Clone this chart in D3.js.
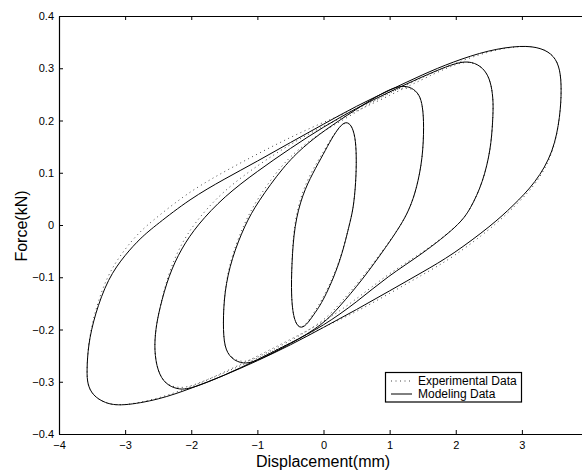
<!DOCTYPE html>
<html>
<head>
<meta charset="utf-8">
<script src="https://cdn.jsdelivr.net/npm/d3@7"></script>
<style>
  html, body { margin: 0; padding: 0; background: #fff; }
  svg { display: block; font-family: "Liberation Sans", Arial, Helvetica, sans-serif; }
</style>
</head>
<body>
<svg id="chart" width="582" height="471"></svg>
<script>
// ---- Data ----
const xTicks = [-4, -3, -2, -1, 0, 1, 2, 3];   // the x = 4 tick lies beyond the picture edge
const yTicks = [-0.4, -0.3, -0.2, -0.1, 0, 0.1, 0.2, 0.3, 0.4];
const legendLabels = ["Experimental Data", "Modeling Data"];

// Modeling data: four hysteresis loops [displacement(mm), force(kN)]
const modelLoop1 = [
  [-0.36,-0.199],[-0.45,-0.182],[-0.49,-0.137],[-0.48,-0.073],[-0.44,0.0],[-0.32,0.058],
  [-0.16,0.1],[0.0,0.136],[0.12,0.165],[0.25,0.19],[0.34,0.198],[0.42,0.192],[0.48,0.17],
  [0.5,0.132],[0.49,0.081],[0.45,0.03],[0.39,0.0],[0.25,-0.073],[0.0,-0.145],
  [-0.15,-0.172],[-0.26,-0.192]
];
const modelLoop2 = [
  [-1.21,-0.267],[-1.4,-0.256],[-1.5,-0.234],[-1.52,-0.191],[-1.5,-0.128],[-1.39,-0.064],
  [-1.19,0.0],[-1.0,0.043],[-0.6,0.113],[-0.3,0.15],[0.0,0.18],[0.5,0.222],[0.9,0.254],
  [1.17,0.268],[1.34,0.263],[1.45,0.25],[1.5,0.228],[1.52,0.19],[1.5,0.128],[1.41,0.07],
  [1.3,0.03],[1.17,0.0],[0.97,-0.038],[0.57,-0.108],[0.25,-0.155],[0.0,-0.19],
  [-0.5,-0.228],[-1.0,-0.26]
];
const modelLoop3 = [
  [-2.2,-0.315],[-2.39,-0.305],[-2.51,-0.28],[-2.56,-0.24],[-2.54,-0.2],[-2.48,-0.16],
  [-2.34,-0.096],[-2.15,-0.045],[-1.91,0.0],[-1.5,0.055],[-1.0,0.103],[-0.5,0.147],
  [0.0,0.188],[0.5,0.224],[1.0,0.255],[1.5,0.284],[1.85,0.303],[2.14,0.315],[2.34,0.308],
  [2.47,0.292],[2.54,0.268],[2.57,0.235],[2.56,0.2],[2.53,0.145],[2.41,0.081],[2.22,0.03],
  [2.05,0.0],[1.5,-0.055],[0.97,-0.098],[0.5,-0.148],[0.0,-0.193],[-0.5,-0.226],
  [-1.0,-0.258],[-1.5,-0.288],[-2.01,-0.314]
];
const modelLoop4 = [
  [-3.58,-0.28],[-3.56,-0.23],[-3.46,-0.172],[-3.26,-0.102],[-3.0,-0.057],[-2.76,-0.024],
  [-2.53,0.0],[-2.02,0.05],[-1.5,0.088],[-1.0,0.122],[-0.5,0.158],[0.0,0.193],[0.5,0.228],
  [1.0,0.258],[1.5,0.288],[1.95,0.312],[2.5,0.335],[3.0,0.344],[3.3,0.339],[3.49,0.324],
  [3.58,0.298],[3.6,0.26],[3.58,0.209],[3.48,0.14],[3.21,0.081],[2.86,0.036],[2.55,0.0],
  [1.95,-0.057],[1.5,-0.09],[1.0,-0.126],[0.5,-0.162],[0.0,-0.196],[-0.5,-0.23],
  [-1.0,-0.26],[-1.5,-0.288],[-2.01,-0.313],[-2.48,-0.334],[-3.06,-0.347],[-3.31,-0.341],
  [-3.49,-0.326],[-3.57,-0.305]
];

// Experimental data (dotted), read where it departs from the model curves
const expLoop1 = [
  [-0.36,-0.199],[-0.45,-0.182],[-0.49,-0.137],[-0.48,-0.073],[-0.45,0.0],[-0.33,0.062],
  [-0.17,0.105],[0.0,0.14],[0.12,0.167],[0.25,0.189],[0.34,0.197],[0.42,0.192],[0.48,0.17],
  [0.5,0.132],[0.49,0.081],[0.45,0.03],[0.39,0.0],[0.25,-0.07],[0.0,-0.14],
  [-0.15,-0.168],[-0.26,-0.19]
];
const expLoop2 = [
  [-1.21,-0.264],[-1.4,-0.255],[-1.5,-0.234],[-1.52,-0.191],[-1.5,-0.128],[-1.4,-0.062],
  [-1.21,0.0],[-1.02,0.047],[-0.62,0.118],[-0.3,0.153],[0.0,0.18],[0.5,0.216],[0.9,0.248],
  [1.17,0.264],[1.34,0.261],[1.45,0.25],[1.5,0.228],[1.52,0.19],[1.5,0.128],[1.41,0.07],
  [1.3,0.03],[1.17,0.0],[0.97,-0.036],[0.57,-0.104],[0.25,-0.15],[0.0,-0.185],
  [-0.5,-0.222],[-1.0,-0.254]
];
const expLoop3 = [
  [-2.2,-0.312],[-2.39,-0.305],[-2.51,-0.28],[-2.56,-0.24],[-2.54,-0.2],[-2.48,-0.16],
  [-2.35,-0.094],[-2.17,-0.04],[-1.94,0.006],[-1.53,0.064],[-1.0,0.114],[-0.5,0.155],
  [0.0,0.19],[0.5,0.218],[1.0,0.248],[1.5,0.279],[1.85,0.3],[2.14,0.314],[2.34,0.308],
  [2.47,0.292],[2.54,0.268],[2.57,0.235],[2.56,0.2],[2.53,0.145],[2.41,0.081],[2.22,0.03],
  [2.05,0.0],[1.5,-0.053],[0.97,-0.094],[0.5,-0.142],[0.0,-0.186],[-0.5,-0.219],
  [-1.0,-0.251],[-1.5,-0.282],[-2.01,-0.31]
];
const expLoop4 = [
  [-3.58,-0.28],[-3.56,-0.23],[-3.47,-0.17],[-3.28,-0.098],[-3.03,-0.05],[-2.79,-0.014],
  [-2.55,0.012],[-2.04,0.063],[-1.52,0.101],[-1.0,0.136],[-0.5,0.168],[0.0,0.197],[0.5,0.222],
  [1.0,0.252],[1.5,0.283],[1.95,0.308],[2.5,0.333],[3.0,0.344],[3.3,0.339],[3.49,0.324],
  [3.58,0.298],[3.6,0.26],[3.58,0.209],[3.48,0.138],[3.22,0.078],[2.87,0.033],[2.56,-0.004],
  [1.96,-0.062],[1.5,-0.095],[1.0,-0.131],[0.5,-0.166],[0.0,-0.196],[-0.5,-0.226],
  [-1.0,-0.255],[-1.5,-0.283],[-2.01,-0.31],[-2.48,-0.332],[-3.06,-0.347],[-3.31,-0.341],
  [-3.49,-0.326],[-3.57,-0.305]
];

const modelLoops = [modelLoop1, modelLoop2, modelLoop3, modelLoop4];
const expLoops = [expLoop1, expLoop2, expLoop3, expLoop4];

// ---- Layout ----
const svg = d3.select("#chart");
const plot = { left: 59, top: 16, right: 588, bottom: 434 };

const x = d3.scaleLinear().domain([-4, 4]).range([plot.left, plot.right]);
const y = d3.scaleLinear().domain([-0.4, 0.4]).range([plot.bottom, plot.top]);

const fmtY = d => d === 0 ? "0" : d3.format(".1f")(d).replace("-", "\u2212");
const fmtX = d => d3.format("d")(d).replace("-", "\u2212");

// Axes
const axB = svg.append("g").attr("transform", `translate(0,${plot.bottom})`)
  .call(d3.axisBottom(x).tickValues(xTicks).tickFormat(fmtX).tickSizeInner(-4).tickSizeOuter(0).tickPadding(7));
const axL = svg.append("g").attr("transform", `translate(${plot.left},0)`)
  .call(d3.axisLeft(y).tickValues(yTicks).tickFormat(fmtY).tickSizeInner(-4).tickSizeOuter(0).tickPadding(5));
const axT = svg.append("g").attr("transform", `translate(0,${plot.top})`)
  .call(d3.axisTop(x).tickValues(xTicks).tickFormat("").tickSizeInner(-4).tickSizeOuter(0));

[axB, axL, axT].forEach(a => {
  a.select(".domain").attr("stroke", "#000").attr("stroke-width", 1.2);
  a.selectAll(".tick line").attr("stroke", "#000").attr("stroke-width", 1);
  a.selectAll("text").attr("fill", "#000").style("font-size", "11px")
    .style("font-family", "'Liberation Sans', Arial, sans-serif");
});
// frame lines run on to the picture edge (the right side lies beyond it)
axB.select(".domain").attr("d", `M${plot.left},0.5H582`);
axT.select(".domain").attr("d", `M${plot.left},0.5H582`);

// Curves
const line = d3.line().x(d => x(d[0])).y(d => y(d[1])).curve(d3.curveBasisClosed);

const gData = svg.append("g");
gData.selectAll("path.exp").data(expLoops).join("path")
  .attr("class", "exp").attr("d", line).attr("fill", "none")
  .attr("stroke", "#444").attr("stroke-width", 1).attr("stroke-dasharray", "1 3.5");
gData.selectAll("path.model").data(modelLoops).join("path")
  .attr("class", "model").attr("d", line).attr("fill", "none")
  .attr("stroke", "#000").attr("stroke-width", 1);

// Axis titles
svg.append("text").attr("x", 323).attr("y", 467).attr("text-anchor", "middle")
  .style("font-size", "16px").text("Displacement(mm)");
svg.append("text").attr("transform", "translate(27,226) rotate(-90)").attr("text-anchor", "middle")
  .style("font-size", "16px").text("Force(kN)");

// Legend
const lg = svg.append("g");
lg.append("rect").attr("x", 385.5).attr("y", 372.5).attr("width", 136).attr("height", 29.5)
  .attr("fill", "#fff").attr("stroke", "#000").attr("stroke-width", 1.2);
const rows = [
  { label: legendLabels[0], dash: "1 3.5", color: "#444", yy: 381 },
  { label: legendLabels[1], dash: null, color: "#000", yy: 394 }
];
rows.forEach(r => {
  lg.append("line").attr("x1", 391).attr("x2", 412).attr("y1", r.yy).attr("y2", r.yy)
    .attr("stroke", r.color).attr("stroke-width", 1).attr("stroke-dasharray", r.dash);
  lg.append("text").attr("x", 418).attr("y", r.yy + 4.3).style("font-size", "12px").text(r.label);
});
</script>
</body>
</html>
